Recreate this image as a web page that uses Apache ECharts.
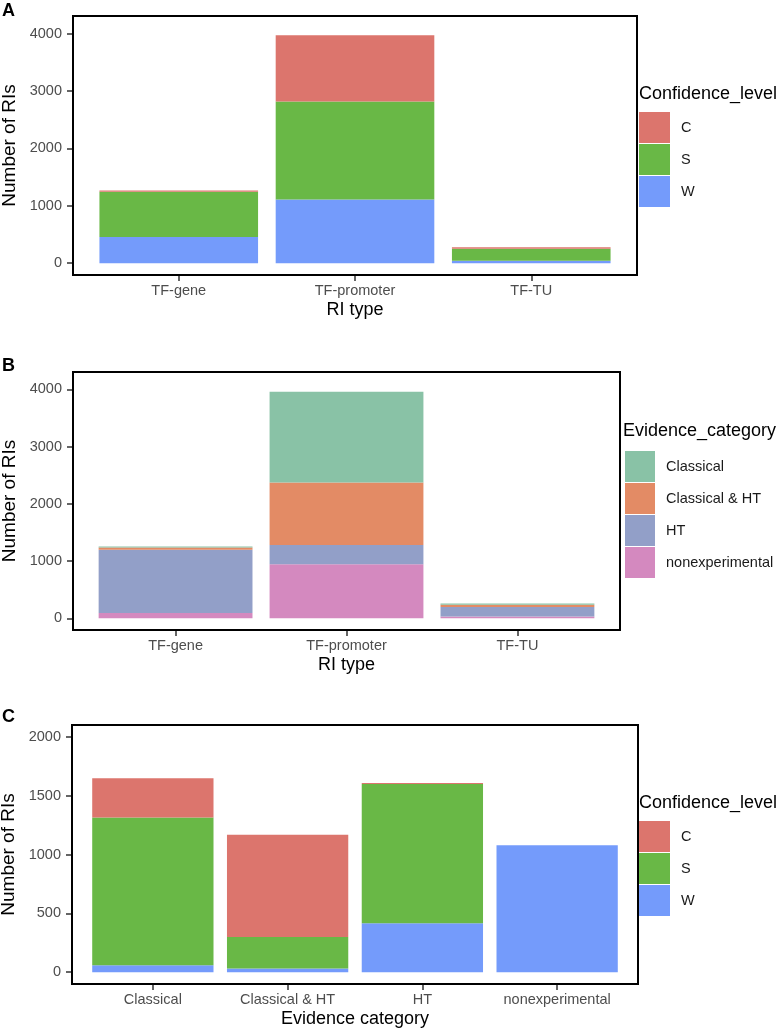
<!DOCTYPE html>
<html>
<head>
<meta charset="utf-8">
<script src="https://cdn.jsdelivr.net/npm/echarts@6/dist/echarts.min.js"></script>
<style>
  html, body { margin: 0; padding: 0; background: #fff; }
  #chart { width: 782px; height: 1032px; }
</style>
</head>
<body>
<div id="chart"></div>
<script>
// ---------- data ----------
const riTypes = ['TF-gene', 'TF-promoter', 'TF-TU'];
const evidenceCats = ['Classical', 'Classical & HT', 'HT', 'nonexperimental'];
const confLevels = ['C', 'S', 'W'];

// Panel A: RI type x Confidence level
const A_W = [455, 1108, 45];
const A_S = [790, 1708, 205];
const A_C = [22, 1155, 30];

// Panel B: RI type x Evidence category
const B_nonexp = [90, 944, 30];
const B_HT = [1110, 336, 168];
const B_ClassHT = [35, 1094, 40];
const B_Classical = [20, 1584, 22];

// Panel C: Evidence category x Confidence level
const C_W = [60, 31, 415, 1079];
const C_S = [1254, 268, 1184, 0];
const C_C = [334, 868, 9, 0];

const yTicksAB = [0, 1000, 2000, 3000, 4000];
const yTicksC = [0, 500, 1000, 1500, 2000];

// ---------- styles ----------
const FONT = "'Liberation Sans', Arial, Helvetica, sans-serif";
const colConf = { C: '#DC756D', S: '#69B846', W: '#749BFB' };
const colEv = { 'Classical': '#89C2A6', 'Classical & HT': '#E38B65', 'HT': '#929FC8', 'nonexperimental': '#D489BF' };

// panel frames (ggplot-like: 0.6 category units of padding on each side)
const boxes = [
  { left: 73, top: 16, width: 564, height: 259, n: 3 },
  { left: 73, top: 372, width: 547, height: 258, n: 3 },
  { left: 72, top: 725, width: 566, height: 259, n: 4 }
];
const grids = boxes.map(b => {
  const unit = b.width / (b.n + 0.2);
  return { left: b.left + 0.1 * unit, top: b.top, width: b.n * unit, height: b.height, pad: 0.1 * unit };
});

function xAxisFor(gi, cats, title) {
  return {
    type: 'category', gridIndex: gi, data: cats, boundaryGap: true, position: 'bottom',
    splitLine: { show: false },
    axisLine: { show: false, onZero: false },
    axisTick: { show: true, alignWithLabel: true, length: 6, lineStyle: { color: '#333', width: 1.5 } },
    axisLabel: { margin: 8, fontSize: 14.5, color: '#4D4D4D', fontFamily: FONT, interval: 0 },
    name: title, nameLocation: 'middle', nameGap: 26,
    nameTextStyle: { fontSize: 18, color: '#000', fontFamily: FONT }
  };
}
function yAxisFor(gi, min, max, ticks) {
  return {
    type: 'value', gridIndex: gi, min: min, max: max, offset: grids[gi].pad,
    splitLine: { show: false },
    axisLine: { show: false, onZero: false },
    axisTick: { show: true, customValues: ticks, length: 6, lineStyle: { color: '#333', width: 1.5 } },
    axisLabel: {
      customValues: ticks, margin: 11, fontSize: 14.5, color: '#4D4D4D', fontFamily: FONT,
      formatter: v => String(v)
    },
    name: 'Number of RIs', nameLocation: 'middle', nameGap: 51,
    nameTextStyle: { fontSize: 19, color: '#000', fontFamily: FONT }
  };
}
function barSeries(name, data, gi, stack, color) {
  return {
    type: 'bar', name: name, xAxisIndex: gi, yAxisIndex: gi, stack: stack,
    data: data, barWidth: '90%',
    itemStyle: { color: color },
    emphasis: { disabled: true },
    animation: false
  };
}

const series = [
  barSeries('W', A_W, 0, 'A', colConf.W),
  barSeries('S', A_S, 0, 'A', colConf.S),
  barSeries('C', A_C, 0, 'A', colConf.C),

  barSeries('nonexperimental', B_nonexp, 1, 'B', colEv['nonexperimental']),
  barSeries('HT', B_HT, 1, 'B', colEv['HT']),
  barSeries('Classical & HT', B_ClassHT, 1, 'B', colEv['Classical & HT']),
  barSeries('Classical', B_Classical, 1, 'B', colEv['Classical']),

  barSeries('W', C_W, 2, 'Cst', colConf.W),
  barSeries('S', C_S, 2, 'Cst', colConf.S),
  barSeries('C', C_C, 2, 'Cst', colConf.C)
];

function legendFor(left, top, names, w) {
  return {
    orient: 'vertical', left: left, top: top, padding: 0,
    itemWidth: w, itemHeight: 31, itemGap: 1,
    selectedMode: false, icon: 'rect',
    data: names,
    formatter: '{t|{name}}',
    textStyle: { fontFamily: FONT, rich: { t: { fontSize: 14.5, color: '#1A1A1A', fontFamily: FONT, padding: [0, 0, 0, 6] } } },
    itemStyle: { borderWidth: 0 }
  };
}

const frameGraphics = boxes.map(b => ({
  type: 'rect', silent: true, z: 100,
  shape: { x: b.left, y: b.top, width: b.width, height: b.height },
  style: { fill: null, stroke: '#000', lineWidth: 2 }
}));

const option = {
  backgroundColor: '#fff',
  animation: false,
  textStyle: { fontFamily: FONT },
  grid: grids.map(g => ({ left: g.left, top: g.top, width: g.width, height: g.height, show: false, containLabel: false, outerBoundsMode: 'none' })),
  xAxis: [
    xAxisFor(0, riTypes, 'RI type'),
    xAxisFor(1, riTypes, 'RI type'),
    xAxisFor(2, evidenceCats, 'Evidence category')
  ],
  yAxis: [
    yAxisFor(0, -205, 4305, yTicksAB),
    yAxisFor(1, -205, 4305, yTicksAB),
    yAxisFor(2, -100, 2100, yTicksC)
  ],
  legend: [
    legendFor(639, 112, confLevels, 31),
    legendFor(625, 451, evidenceCats, 30),
    legendFor(639, 821, confLevels, 31)
  ],
  graphic: frameGraphics.concat([
    { type: 'text', left: 2, top: 2, style: { text: 'A', font: "bold 18px " + FONT, fill: '#000' } },
    { type: 'text', left: 2, top: 357, style: { text: 'B', font: "bold 18px " + FONT, fill: '#000' } },
    { type: 'text', left: 2, top: 708, style: { text: 'C', font: "bold 18px " + FONT, fill: '#000' } },
    { type: 'text', left: 639, top: 85, style: { text: 'Confidence_level', font: "18px " + FONT, fill: '#000' } },
    { type: 'text', left: 623, top: 422, style: { text: 'Evidence_category', font: "18px " + FONT, fill: '#000' } },
    { type: 'text', left: 639, top: 794, style: { text: 'Confidence_level', font: "18px " + FONT, fill: '#000' } }
  ]),
  series: series
};

const chart = echarts.init(document.getElementById('chart'), null, { renderer: 'canvas' });
chart.setOption(option);
</script>
</body>
</html>
